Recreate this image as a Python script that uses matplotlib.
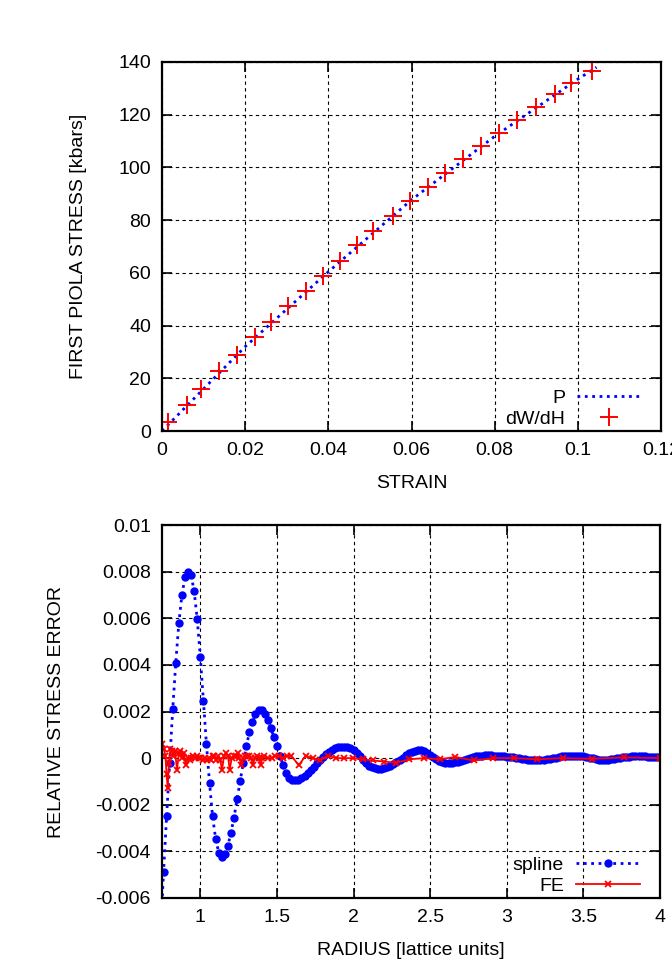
import numpy as np
import matplotlib
matplotlib.use("Agg")
import matplotlib.pyplot as plt
from matplotlib.ticker import FixedLocator, FuncFormatter

plt.rcParams['font.family'] = ['Liberation Sans', 'DejaVu Sans']
plt.rcParams['axes.unicode_minus'] = False

# top panel: stress vs strain
strain_p = [0.0, 0.02, 0.04, 0.06, 0.08, 0.10, 0.1045]
stress_p = [0.0, 32.0, 60.4, 87.7, 111.8, 133.5, 138.0]

strain_dw = [0.0014, 0.0059, 0.0094, 0.0137, 0.0181, 0.0223, 0.0263, 0.0304, 0.0346,
             0.0388, 0.0429, 0.0470, 0.0507, 0.0555, 0.0597, 0.0640, 0.0680, 0.0725,
             0.0768, 0.0810, 0.0854, 0.0900, 0.0944, 0.0983, 0.1035]
stress_dw = [3.4, 10.0, 16.0, 22.75, 29.0, 35.6, 41.5, 47.5, 53.0, 58.75, 64.4, 70.6,
             75.8, 81.5, 87.3, 92.4, 97.8, 103.1, 108.2, 112.9, 118.1, 122.8, 127.9,
             132.0, 136.6]

strain_ticks = [0, 0.02, 0.04, 0.06, 0.08, 0.1, 0.12]
stress_ticks = [0, 20, 40, 60, 80, 100, 120, 140]

# bottom panel: relative stress error vs radius
spline_r = [0.74, 0.76, 0.78, 0.80, 0.82, 0.84, 0.86, 0.88, 0.90, 0.92,
            0.94, 0.96, 0.98, 1.00, 1.02, 1.04, 1.06, 1.08, 1.10, 1.12,
            1.14, 1.16, 1.18, 1.20, 1.22, 1.24, 1.26, 1.28, 1.30, 1.32,
            1.34, 1.36, 1.38, 1.40, 1.42, 1.44, 1.46, 1.48, 1.50, 1.52,
            1.54, 1.56, 1.58, 1.60, 1.62, 1.64, 1.66, 1.68, 1.70, 1.72,
            1.74, 1.76, 1.78, 1.80, 1.82, 1.84, 1.86, 1.88, 1.90, 1.92,
            1.94, 1.96, 1.98, 2.00, 2.02, 2.04, 2.06, 2.08, 2.10, 2.12,
            2.14, 2.16, 2.18, 2.20, 2.22, 2.24, 2.26, 2.28, 2.30, 2.32,
            2.34, 2.36, 2.38, 2.40, 2.42, 2.44, 2.46, 2.48, 2.50, 2.52,
            2.54, 2.56, 2.58, 2.60, 2.62, 2.64, 2.66, 2.68, 2.70, 2.72,
            2.74, 2.76, 2.78, 2.80, 2.82, 2.84, 2.86, 2.88, 2.90, 2.92,
            2.94, 2.96, 2.98, 3.00, 3.02, 3.04, 3.06, 3.08, 3.10, 3.12,
            3.14, 3.16, 3.18, 3.20, 3.22, 3.24, 3.26, 3.28, 3.30, 3.32,
            3.34, 3.36, 3.38, 3.40, 3.42, 3.44, 3.46, 3.48, 3.50, 3.52,
            3.54, 3.56, 3.58, 3.60, 3.62, 3.64, 3.66, 3.68, 3.70, 3.72,
            3.74, 3.76, 3.78, 3.80, 3.82, 3.84, 3.86, 3.88, 3.90, 3.92,
            3.94, 3.96, 3.98, 4.00]
# values in units of 1e-4
spline_err = [-75, -49, -25, -2, 21, 41, 58, 70, 77.5, 80,
              78.5, 71.5, 59.5, 43.5, 24.5, 6, -10.5, -25, -34.5, -40.5,
              -42.4, -41.3, -37.5, -32, -25.5, -17.5, -10, -2, 5, 11,
              15.5, 19, 20.5, 20.5, 19, 16.5, 13, 9, 5, 1,
              -3, -6.5, -8.5, -9.3, -9.5, -9.2, -8.5, -7.5, -6.4, -5,
              -3.7, -2.3, -1, 0.5, 1.7, 2.8, 3.6, 4.2, 4.6, 4.8,
              4.9, 4.7, 4.3, 3.5, 2.3, 0.8, -0.8, -2.2, -3.3, -4,
              -4.4, -4.6, -4.6, -4.4, -4, -3.4, -2.6, -1.8, -0.8, 0.2,
              1.2, 2, 2.7, 3.2, 3.4, 3.3, 2.9, 2.2, 1.3, 0.3,
              -0.5, -1.2, -1.7, -2, -2.1, -2, -1.8, -1.5, -1.1, -0.7,
              -0.3, 0.1, 0.4, 0.7, 0.9, 1.1, 1.2, 1.2, 1.2, 1.1,
              1, 0.9, 0.8, 0.6, 0.5, 0.3, 0.1, 0, -0.2, -0.4,
              -0.6, -0.8, -0.9, -0.9, -0.8, -0.7, -0.5, -0.3, -0.1, 0.1,
              0.4, 0.7, 0.9, 1.0, 1.1, 1.1, 1.1, 1.0, 0.8, 0.5,
              0.2, -0.1, -0.4, -0.6, -0.7, -0.7, -0.6, -0.4, -0.2, 0,
              0.2, 0.4, 0.5, 0.6, 0.7, 0.7, 0.7, 0.7, 0.7, 0.6,
              0.5, 0.4, 0.4, 0.3]

fe_r = [0.748, 0.762, 0.772, 0.780, 0.787, 0.795, 0.805, 0.815, 0.825, 0.835,
        0.848, 0.860, 0.870, 0.882, 0.893, 0.905, 0.917, 0.930, 0.942, 0.955,
        0.967, 0.980, 0.992, 1.005, 1.018, 1.030, 1.043, 1.055, 1.068, 1.080,
        1.092, 1.105, 1.118, 1.130, 1.142, 1.155, 1.168, 1.180, 1.192, 1.205,
        1.218, 1.230, 1.243, 1.255, 1.268, 1.280, 1.293, 1.305, 1.318, 1.330,
        1.343, 1.355, 1.368, 1.380, 1.393, 1.405, 1.418, 1.440, 1.465, 1.490,
        1.515, 1.540, 1.565, 1.593, 1.643, 1.687, 1.735, 1.778, 1.833, 1.887,
        1.941, 1.996, 2.061, 2.126, 2.202, 2.278, 2.365, 2.461, 2.561, 2.664,
        2.785, 2.912, 3.048, 3.197, 3.364, 3.555, 3.765, 4.0]
fe_err = [6, 4, 1, -7, -13, -2, 4, 3, 1, 3,
          -5, 2, 3, 0, 2, -3, 0, -1, 0, 1,
          0, 1, 0, 0, -1, 0, -1, 0, -1, 1,
          1, -1, 1, -1, -5, 1, 2, 1, -5, 0,
          1, 1, 2, 0, -3, 0, 1, 1, 1, 0,
          -3, 0, 1, 0, -3, 0, 1, 0, 0, 1,
          1, 0, 1, 1, -3, 1, 0, -1, 1, 0,
          0, 0, -0.5, -1, -1.5, -2, -0.5, 0, -0.5, 0.5,
          -1, 0, 0, -0.5, 0, -0.3, 0.3, 0]

radius_ticks = [1, 1.5, 2, 2.5, 3, 3.5, 4]
err_ticks = [-0.006, -0.004, -0.002, 0, 0.002, 0.004, 0.006, 0.008, 0.01]

FS = 14
fmt = FuncFormatter(lambda v, pos: '%g' % round(v, 6))


def gnuplot_style(ax):
    ax.grid(True, color='black', linestyle=(0, (3, 3)), linewidth=0.8)
    ax.tick_params(direction='in', length=7, width=1.2, top=True, right=True,
                   labelsize=FS, pad=8)
    for s in ax.spines.values():
        s.set_linewidth(1.6)


def add_key(ax):
    # gnuplot-like key: right-aligned text, sample on the right
    ax.legend(loc='lower right', bbox_to_anchor=(0.975, -0.013), frameon=False,
              markerfirst=False, fontsize=FS, handlelength=3.3, handletextpad=0.6,
              numpoints=1, labelspacing=0.2, borderaxespad=0.0)


fig = plt.figure(figsize=(6.72, 9.73), dpi=100)

ax1 = fig.add_axes([162 / 672, 1 - 431 / 973, 499 / 672, 369 / 973])
ax1.plot(strain_p, stress_p, color='#0000ff', linestyle=':', linewidth=2, label='P')
ax1.plot(strain_dw, stress_dw, color='#ff0000', linestyle='none', marker='+',
         markersize=13, markeredgewidth=1.4, label='dW/dH')
ax1.set_xlim(0, 0.12)
ax1.set_ylim(0, 140)
ax1.xaxis.set_major_locator(FixedLocator(strain_ticks))
ax1.yaxis.set_major_locator(FixedLocator(stress_ticks))
ax1.xaxis.set_major_formatter(fmt)
ax1.yaxis.set_major_formatter(fmt)
gnuplot_style(ax1)
ax1.set_xlabel('STRAIN', fontsize=FS)
ax1.set_ylabel('FIRST PIOLA STRESS [kbars]', fontsize=FS)
ax1.xaxis.set_label_coords(0.5, -0.118)
ax1.yaxis.set_label_coords(-0.15, 0.5)
add_key(ax1)

ax2 = fig.add_axes([162 / 672, 1 - 898 / 973, 498 / 672, 373 / 973])
ax2.plot(spline_r, np.array(spline_err) * 1e-4, color='#0000ff', linestyle=':',
         linewidth=2, marker='o', markersize=5, label='spline')
ax2.plot(fe_r, np.array(fe_err) * 1e-4, color='#ff0000', linestyle='-',
         linewidth=1.3, marker='x', markersize=5, markeredgewidth=1.3, label='FE')
ax2.set_xlim(0.75, 4)
ax2.set_ylim(-0.006, 0.01)
ax2.xaxis.set_major_locator(FixedLocator(radius_ticks))
ax2.yaxis.set_major_locator(FixedLocator(err_ticks))
ax2.xaxis.set_major_formatter(fmt)
ax2.yaxis.set_major_formatter(fmt)
gnuplot_style(ax2)
ax2.set_xlabel('RADIUS [lattice units]', fontsize=FS)
ax2.set_ylabel('RELATIVE STRESS ERROR', fontsize=FS)
ax2.xaxis.set_label_coords(0.5, -0.118)
ax2.yaxis.set_label_coords(-0.195, 0.5)
add_key(ax2)

fig.savefig('out.png', dpi=100)
